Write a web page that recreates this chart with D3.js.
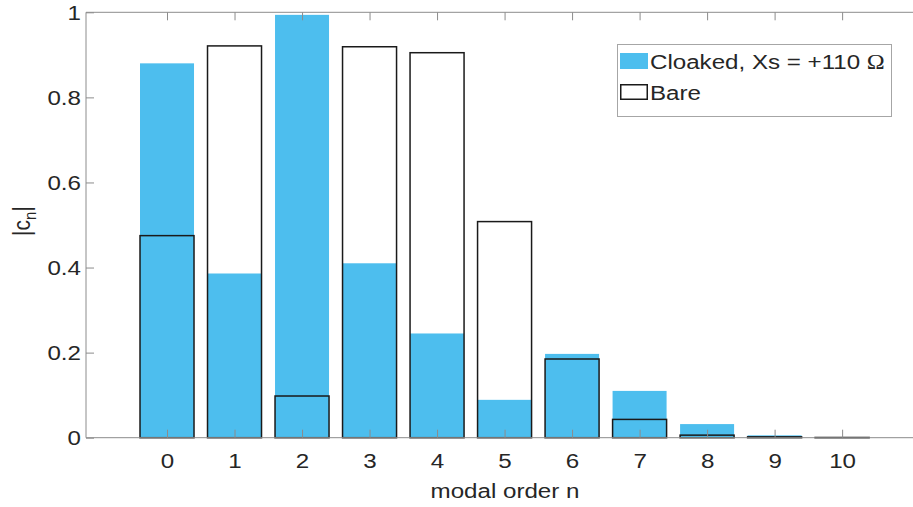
<!DOCTYPE html>
<html>
<head>
<meta charset="utf-8">
<script src="https://cdn.jsdelivr.net/npm/d3@7"></script>
<style>
  html, body { margin: 0; padding: 0; background: #fff; }
  svg { display: block; }
  text { font-family: "Liberation Sans", Arial, sans-serif; fill: #262626; }
</style>
</head>
<body>
<svg id="chart" width="913" height="507"></svg>
<script>
const modes = [0, 1, 2, 3, 4, 5, 6, 7, 8, 9, 10];
const cloaked = [0.880, 0.386, 0.994, 0.410, 0.245, 0.089, 0.197, 0.110, 0.032, 0.0055, 0.001];
const bare    = [0.475, 0.921, 0.098, 0.919, 0.905, 0.508, 0.185, 0.043, 0.006, 0.002, 0.0005];
const yTicks = [0, 0.2, 0.4, 0.6, 0.8, 1];
const xLabel = "modal order n";
const legendLabels = ["Cloaked, Xs = +110 ", "Bare"];

const svg = d3.select("#chart");
const L = 86, R = 913, T = 12.3, B = 437.7;
const x = d3.scaleLinear().domain([-1.2, 11.05]).range([L, R]);
const y = d3.scaleLinear().domain([0, 1]).range([B, T]);
const bw = 0.8;
const blue = "#4DBEEE";
const axisColor = "#8c8c8c";
const sx = 1.15;   // horizontal stretch of the reference's text
const fs = 21;

// Cloaked bars
svg.append("g").selectAll("rect").data(modes).join("rect")
  .attr("x", d => x(d - bw / 2))
  .attr("width", d => x(d + bw / 2) - x(d - bw / 2))
  .attr("y", (d, i) => y(cloaked[i]))
  .attr("height", (d, i) => y(0) - y(cloaked[i]))
  .attr("fill", blue);

// Bare bars
svg.append("g").selectAll("rect").data(modes).join("rect")
  .attr("x", d => x(d - bw / 2))
  .attr("width", d => x(d + bw / 2) - x(d - bw / 2))
  .attr("y", (d, i) => y(bare[i]))
  .attr("height", (d, i) => y(0) - y(bare[i]))
  .attr("fill", "none")
  .attr("stroke", "#1a1a1a")
  .attr("stroke-width", 1.5);

// Axes
const tickLen = 8;
const gx = svg.append("g").attr("transform", `translate(0,${B})`)
  .call(d3.axisBottom(x).tickValues(modes).tickSize(-tickLen).tickPadding(15.5).tickFormat(d3.format("d")));
const gxt = svg.append("g").attr("transform", `translate(0,${T})`)
  .call(d3.axisTop(x).tickValues(modes).tickSize(-tickLen).tickFormat(""));
const gy = svg.append("g").attr("transform", `translate(${L},0)`)
  .call(d3.axisLeft(y).tickValues(yTicks).tickSize(-tickLen).tickPadding(5).tickFormat(d => d === 0 || d === 1 ? d3.format("d")(d) : d3.format(".1f")(d)));
[gx, gxt, gy].forEach(g => {
  g.select(".domain").attr("stroke", axisColor).attr("stroke-width", 1);
  g.selectAll(".tick line").attr("stroke", axisColor).attr("stroke-width", 1);
  g.selectAll(".tick text").attr("font-size", fs).attr("fill", "#262626")
   .attr("font-family", '"Liberation Sans", Arial, sans-serif');
});
gx.selectAll(".tick text").attr("transform", `scale(${sx},1)`);
gy.selectAll(".tick text").attr("x", 0).attr("transform", `translate(-5,0) scale(${sx},1)`);
gx.select(".domain").attr("d", `M${L},0H${R}`);
gxt.select(".domain").attr("d", `M${L},0H${R}`);
gy.select(".domain").attr("d", `M0,${B}V${T}`);

// Axis labels
svg.append("text").attr("transform", `translate(505,498) scale(${sx},1)`)
  .attr("text-anchor", "middle").attr("font-size", fs).text(xLabel);
const yl = svg.append("text").attr("transform", `translate(30,221) scale(${sx},1) rotate(-90)`)
  .attr("text-anchor", "middle").attr("font-size", fs);
yl.append("tspan").text("|c");
yl.append("tspan").attr("font-size", 15).attr("dy", 5).text("n");
yl.append("tspan").attr("dy", -5).text("|");

// Legend
const lg = svg.append("g");
lg.append("rect").attr("x", 617.5).attr("y", 44.5).attr("width", 274).attr("height", 72)
  .attr("fill", "#fff").attr("stroke", "#a6a6a6").attr("stroke-width", 1);
lg.append("rect").attr("x", 620).attr("y", 53).attr("width", 28).attr("height", 16).attr("fill", blue);
lg.append("rect").attr("x", 620.75).attr("y", 84.75).attr("width", 26.5).attr("height", 14.5)
  .attr("fill", "#fff").attr("stroke", "#1a1a1a").attr("stroke-width", 1.5);
const t1 = lg.append("text").attr("transform", `translate(650,69) scale(${sx},1)`).attr("font-size", fs);
t1.append("tspan").text(legendLabels[0]);
t1.append("tspan").attr("font-family", '"Liberation Serif", "Times New Roman", serif').text("Ω");
lg.append("text").attr("transform", `translate(650,100) scale(${sx},1)`).attr("font-size", fs).text(legendLabels[1]);
</script>
</body>
</html>
